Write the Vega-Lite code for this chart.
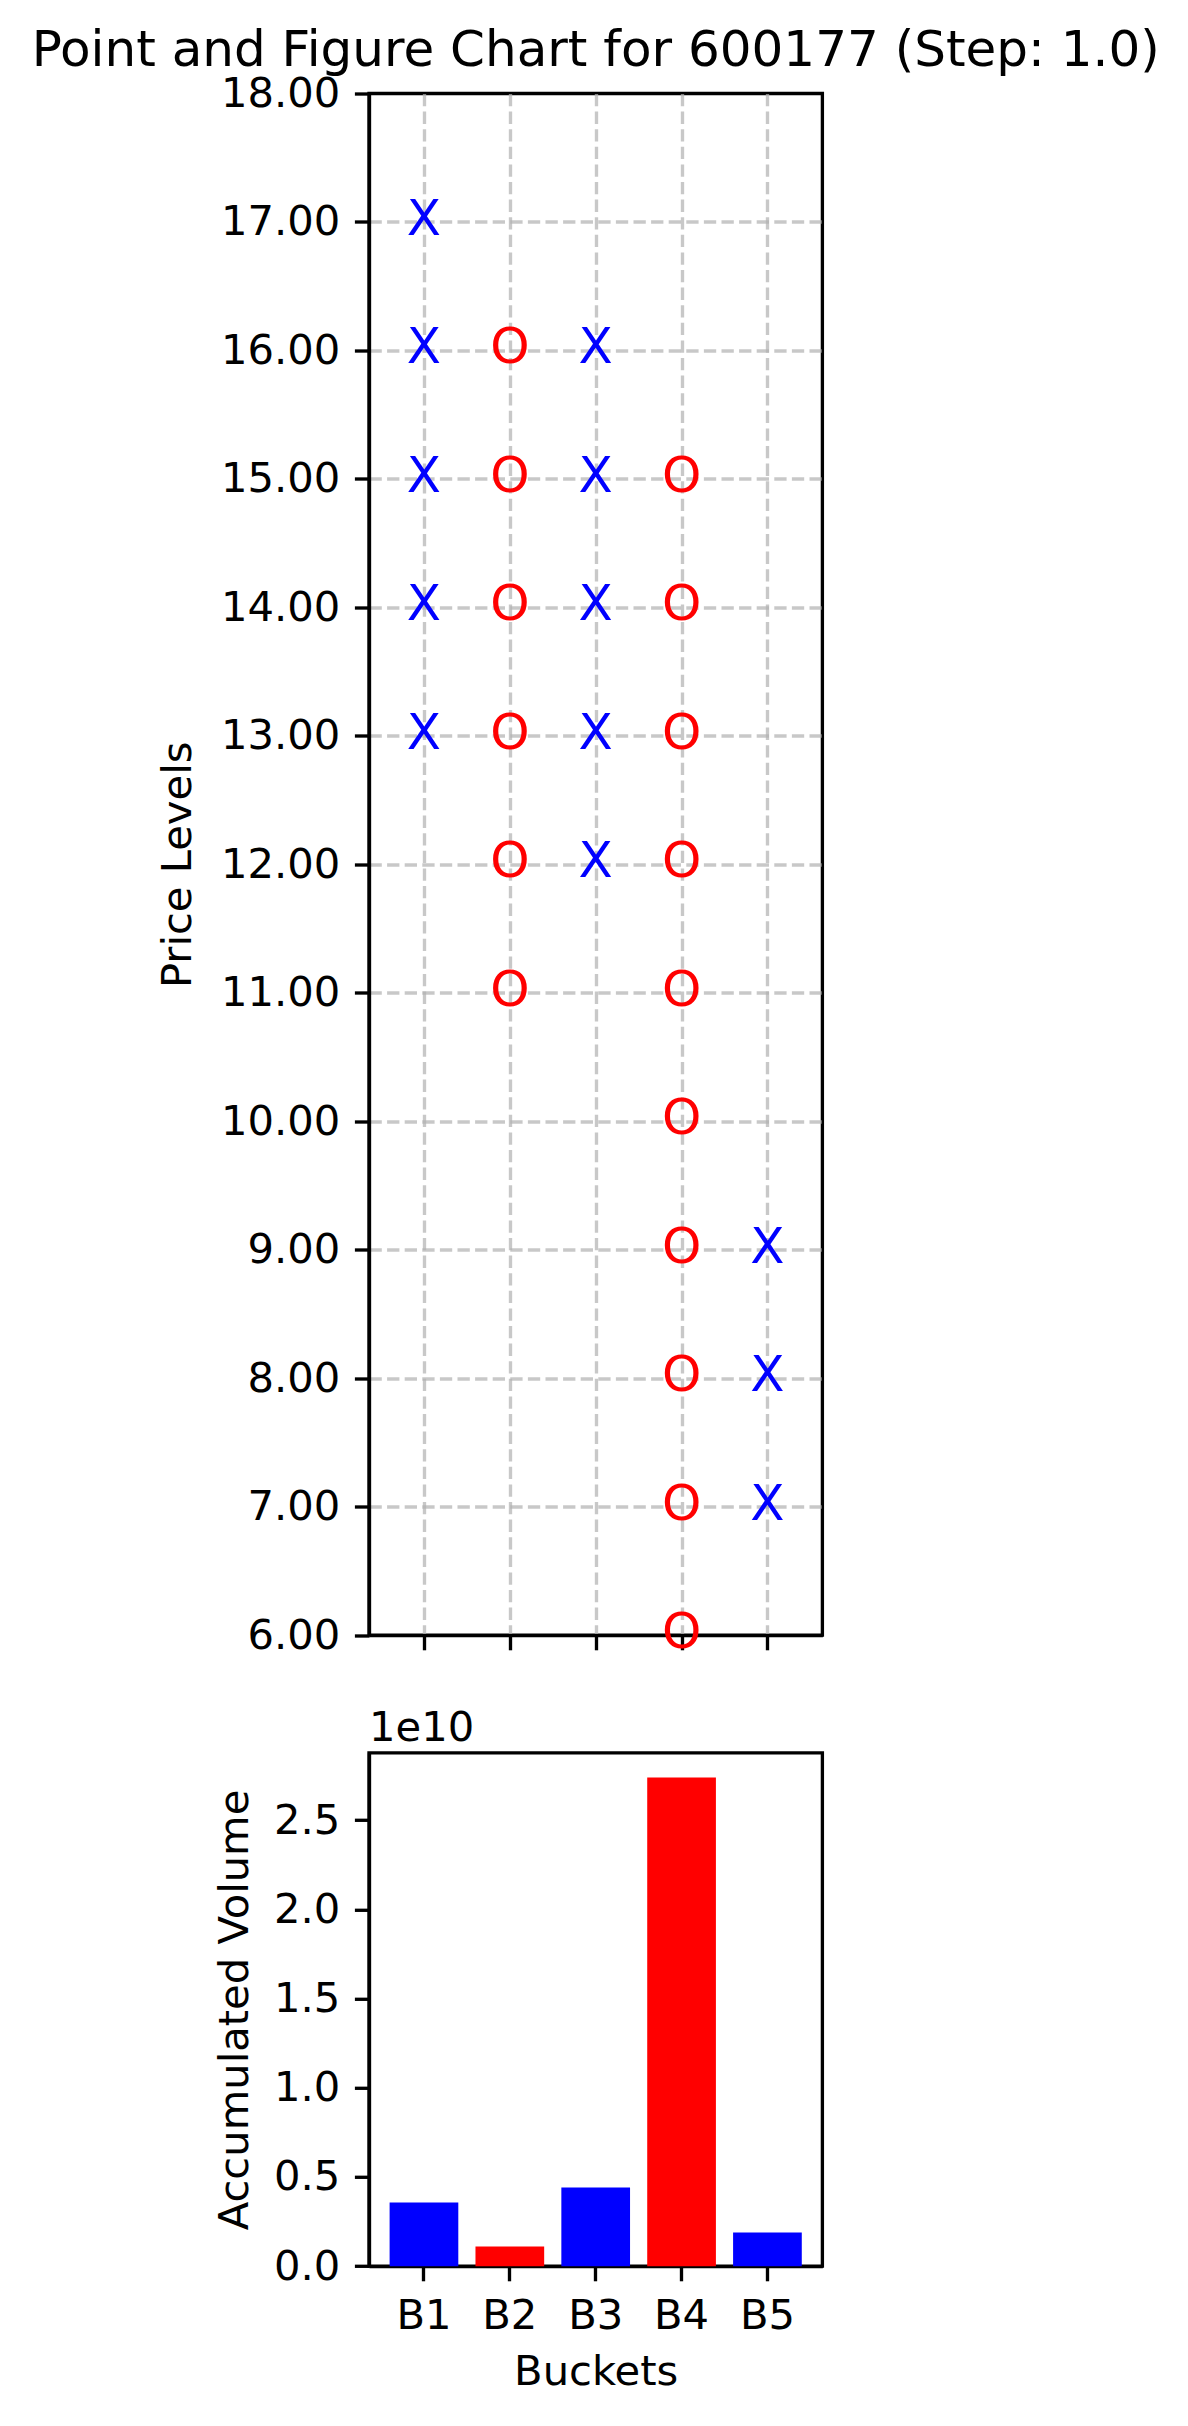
{
  "$schema": "https://vega.github.io/schema/vega-lite/v6.json",
  "padding": {"left": 29, "top": 23.5, "right": 20, "bottom": 10},
  "background": "white",
  "bounds": "flush",
  "spacing": 117.3,
  "config": {
    "font": "DejaVu Sans",
    "view": {"stroke": "black", "strokeWidth": 3.33},
    "axis": {
      "domainColor": "black", "domainWidth": 3.33,
      "tickColor": "black", "tickWidth": 3.33, "tickSize": 14.6,
      "labelFontSize": 41.67, "labelColor": "black", "labelFont": "DejaVu Sans",
      "titleFontSize": 41.67, "titleFontWeight": "normal", "titleColor": "black", "titleFont": "DejaVu Sans",
      "labelPadding": 14.6
    },
    "title": {"font": "DejaVu Sans", "fontWeight": "normal", "color": "black"}
  },
  "resolve": {"scale": {"x": "independent", "y": "independent"}},
  "vconcat": [
    {
      "width": 453.4,
      "height": 1541.7,
      "title": {"text": "Point and Figure Chart for 600177 (Step: 1.0)", "fontSize": 50, "frame": "group", "anchor": "middle", "baseline": "alphabetic", "offset": -42},
      "data": {"values": [
        {"bucket": "B1", "price": 13, "type": "X"},
        {"bucket": "B1", "price": 14, "type": "X"},
        {"bucket": "B1", "price": 15, "type": "X"},
        {"bucket": "B1", "price": 16, "type": "X"},
        {"bucket": "B1", "price": 17, "type": "X"},
        {"bucket": "B2", "price": 11, "type": "O"},
        {"bucket": "B2", "price": 12, "type": "O"},
        {"bucket": "B2", "price": 13, "type": "O"},
        {"bucket": "B2", "price": 14, "type": "O"},
        {"bucket": "B2", "price": 15, "type": "O"},
        {"bucket": "B2", "price": 16, "type": "O"},
        {"bucket": "B3", "price": 12, "type": "X"},
        {"bucket": "B3", "price": 13, "type": "X"},
        {"bucket": "B3", "price": 14, "type": "X"},
        {"bucket": "B3", "price": 15, "type": "X"},
        {"bucket": "B3", "price": 16, "type": "X"},
        {"bucket": "B4", "price": 6, "type": "O"},
        {"bucket": "B4", "price": 7, "type": "O"},
        {"bucket": "B4", "price": 8, "type": "O"},
        {"bucket": "B4", "price": 9, "type": "O"},
        {"bucket": "B4", "price": 10, "type": "O"},
        {"bucket": "B4", "price": 11, "type": "O"},
        {"bucket": "B4", "price": 12, "type": "O"},
        {"bucket": "B4", "price": 13, "type": "O"},
        {"bucket": "B4", "price": 14, "type": "O"},
        {"bucket": "B4", "price": 15, "type": "O"},
        {"bucket": "B5", "price": 7, "type": "X"},
        {"bucket": "B5", "price": 8, "type": "X"},
        {"bucket": "B5", "price": 9, "type": "X"}
      ]},
      "mark": {"type": "text", "fontSize": 50, "baseline": "middle", "align": "center", "clip": false, "font": "DejaVu Sans", "dy": -2},
      "encoding": {
        "x": {
          "field": "bucket", "type": "nominal",
          "scale": {"type": "point", "domain": ["B1", "B2", "B3", "B4", "B5"], "padding": 0.64},
          "axis": {"labels": false, "title": null, "grid": true, "gridDash": [12.3, 5.3], "gridColor": "#b0b0b0", "gridOpacity": 0.7, "gridWidth": 3.33}
        },
        "y": {
          "field": "price", "type": "quantitative",
          "scale": {"domain": [6, 18], "nice": false, "zero": false},
          "axis": {"values": [6, 7, 8, 9, 10, 11, 12, 13, 14, 15, 16, 17, 18], "format": ".2f", "title": "Price Levels", "titlePadding": 21, "grid": true, "gridDash": [12.3, 5.3], "gridColor": "#b0b0b0", "gridOpacity": {"condition": {"test": "datum.value == 6 || datum.value == 18", "value": 0}, "value": 0.7}, "gridWidth": 3.33}
        },
        "text": {"field": "type"},
        "color": {"field": "type", "type": "nominal", "scale": {"domain": ["X", "O"], "range": ["#0000ff", "#ff0000"]}, "legend": null}
      }
    },
    {
      "width": 453.4,
      "height": 513.4,
      "title": {"text": "1e10", "fontSize": 41.67, "frame": "group", "anchor": "start", "baseline": "alphabetic", "offset": -30},
      "data": {"values": [
        {"bucket": "B1", "volume": 3570000000, "type": "X"},
        {"bucket": "B2", "volume": 1100000000, "type": "O"},
        {"bucket": "B3", "volume": 4410000000, "type": "X"},
        {"bucket": "B4", "volume": 27390000000, "type": "O"},
        {"bucket": "B5", "volume": 1890000000, "type": "X"}
      ]},
      "mark": {"type": "bar"},
      "encoding": {
        "x": {
          "field": "bucket", "type": "nominal",
          "scale": {"type": "band", "domain": ["B1", "B2", "B3", "B4", "B5"], "paddingInner": 0.2, "paddingOuter": 0.24},
          "axis": {"title": "Buckets", "labelAngle": 0, "grid": false, "bandPosition": 0.5, "titlePadding": 14}
        },
        "y": {
          "field": "volume", "type": "quantitative",
          "scale": {"domain": [0, 28780000000], "nice": false, "zero": true},
          "axis": {"values": [0, 5000000000, 10000000000, 15000000000, 20000000000, 25000000000], "labelExpr": "format(datum.value / 1e10, '.1f')", "title": "Accumulated Volume", "titlePadding": 17.5, "grid": false}
        },
        "color": {"field": "type", "type": "nominal", "scale": {"domain": ["X", "O"], "range": ["#0000ff", "#ff0000"]}, "legend": null}
      }
    }
  ]
}
